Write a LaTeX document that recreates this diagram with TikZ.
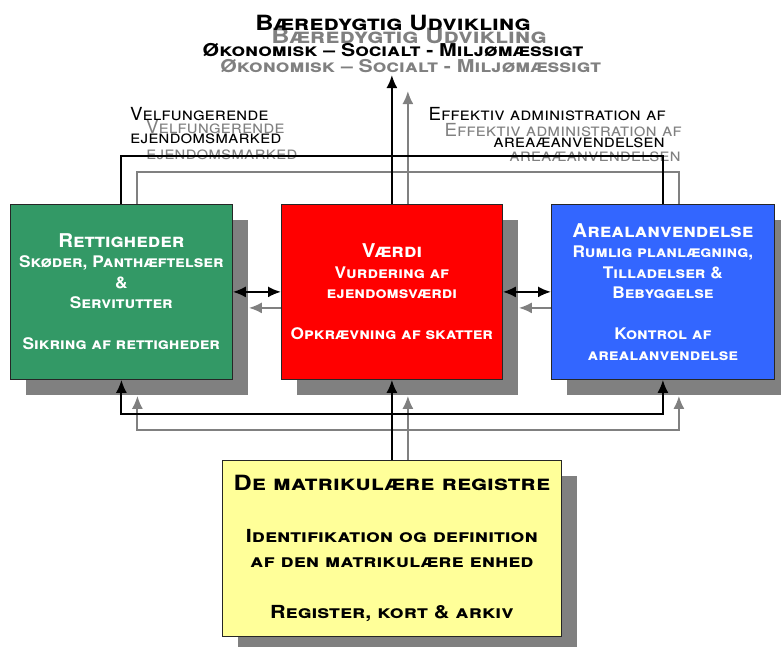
\documentclass[tikz,border=0pt]{standalone}
\usepackage{fontspec}
\setmainfont{TeX Gyre Heros}
\newfontfamily\boksfont[FakeStretch=1.08]{TeX Gyre Heros}
\newfontfamily\gulfont[FakeStretch=1.2]{TeX Gyre Heros}
\newfontfamily\titelfont[FakeStretch=1.2]{TeX Gyre Heros}
\newfontfamily\etiketfont[FakeStretch=1.04]{TeX Gyre Heros}
\usetikzlibrary{arrows.meta, shadows}
\pgfdeclarelayer{bag}
\pgfsetlayers{bag,main}
\definecolor{matrikelgron}{RGB}{51,153,102}
\definecolor{matrikelrod}{RGB}{255,0,0}
\definecolor{matrikelbla}{RGB}{51,102,255}
\definecolor{matrikelgul}{RGB}{255,255,153}
\definecolor{skygge}{RGB}{128,128,128}
\tikzset{boks/.style={draw=black!85, line width=0.8pt, inner sep=0pt, anchor=north west, align=center, text=white, font=\boksfont\fontsize{16}{20.5}\selectfont\bfseries\scshape, drop shadow={shadow xshift=16pt, shadow yshift=-16pt, fill=skygge, opacity=1}}}
\tikzset{linje/.style={line width=2pt}}
\tikzset{pil/.style={line width=2pt, -{Latex[length=13pt, width=11pt]}}}
\tikzset{dobbeltpil/.style={line width=2pt, {Latex[length=13pt, width=11pt]}-{Latex[length=13pt, width=11pt]}}}
\tikzset{overskrift/.style={anchor=base, inner sep=0pt, font=\titelfont\fontsize{#1}{#1}\selectfont\bfseries\scshape}}
\tikzset{etiket/.style={inner sep=0pt, font=\etiketfont\fontsize{18}{20}\selectfont\scshape}}
\newcommand{\forbindelser}{%
  \draw[pil] (vaerdi.north) -- (maal);
  \draw[linje] (rettigheder.north) -- ++(0,-48) -| (arealanv.north);
  \draw[dobbeltpil] (rettigheder.east) -- (vaerdi.west);
  \draw[dobbeltpil] (vaerdi.east) -- (arealanv.west);
  \draw[pil] (registre.north) -- (vaerdi.south);
  \foreach \boks in {rettigheder, arealanv}
    \draw[pil] (knude) -| (\boks.south);
}

\begin{document}
\begin{tikzpicture}[x=1pt, y=-1pt]
\useasboundingbox (0,0) rectangle (781,646);

\foreach \farve/\dx/\dy/\n in {skygge/16/13/s, black/0/0/} {
  \node[overskrift=21, \farve] (titel\n) at (393+\dx,30+\dy) {Bæredygtig Udvikling};
  \node[overskrift=17.7, \farve] (maal\n) at (393+1.1*\dx,56+1.3*\dy) {Økonomisk – Socialt - Miljømæssigt};
  \node[etiket, \farve, anchor=base west] (velf\n) at (130+\dx,120+\dy) {Velfungerende};
  \node[etiket, \farve, anchor=base west] (marked\n) at (130+\dx,143+1.3*\dy) {ejendomsmarked};
  \node[etiket, \farve, anchor=base east] (admin\n) at (666+\dx,120+1.3*\dy) {Effektiv administration af};
  \node[etiket, \farve, anchor=base east] (areal\n) at (665+\dx,147+1.15*\dy) {areaæanvendelsen};
}

\node[boks, fill=matrikelgron, minimum width=222pt, minimum height=175pt] (rettigheder) at (10,204)
  {{\fontsize{19}{21}\selectfont Rettigheder}\\ Skøder, Panthæftelser\\ \&\\ Servitutter\\[20.5pt] Sikring af rettigheder};
\node[boks, fill=matrikelrod, minimum width=221pt, minimum height=175pt] (vaerdi) at (281,204)
  {{\fontsize{19}{21}\selectfont Værdi}\\ Vurdering af\\ ejendomsværdi\\[20.5pt] Opkrævning af skatter};
\node[boks, fill=matrikelbla, minimum width=223pt, minimum height=175pt] (arealanv) at (551,204)
  {{\fontsize{19}{21}\selectfont Arealanvendelse}\\ Rumlig planlægning,\\ Tilladelser \&\\ Bebyggelse\\[20.5pt] Kontrol af\\ arealanvendelse};
\node[boks, fill=matrikelgul, text=black, font=\gulfont\fontsize{18}{25.5}\selectfont\bfseries\scshape, minimum width=339pt, minimum height=176pt] (registre) at (222,460)
  {{\fontsize{21}{27}\selectfont De matrikulære registre}\\[26pt] Identifikation og definition\\ af den matrikulære enhed\\[25pt] Register, kort \& arkiv};

\coordinate (maal) at (vaerdi.north |- 0,75);
\coordinate (knude) at (vaerdi.south |- 0,414);

\forbindelser
\begin{pgfonlayer}{bag}
\begin{scope}[transform canvas={shift={(16,16)}}, skygge]
\forbindelser
\end{scope}
\end{pgfonlayer}
\end{tikzpicture}
\end{document}
